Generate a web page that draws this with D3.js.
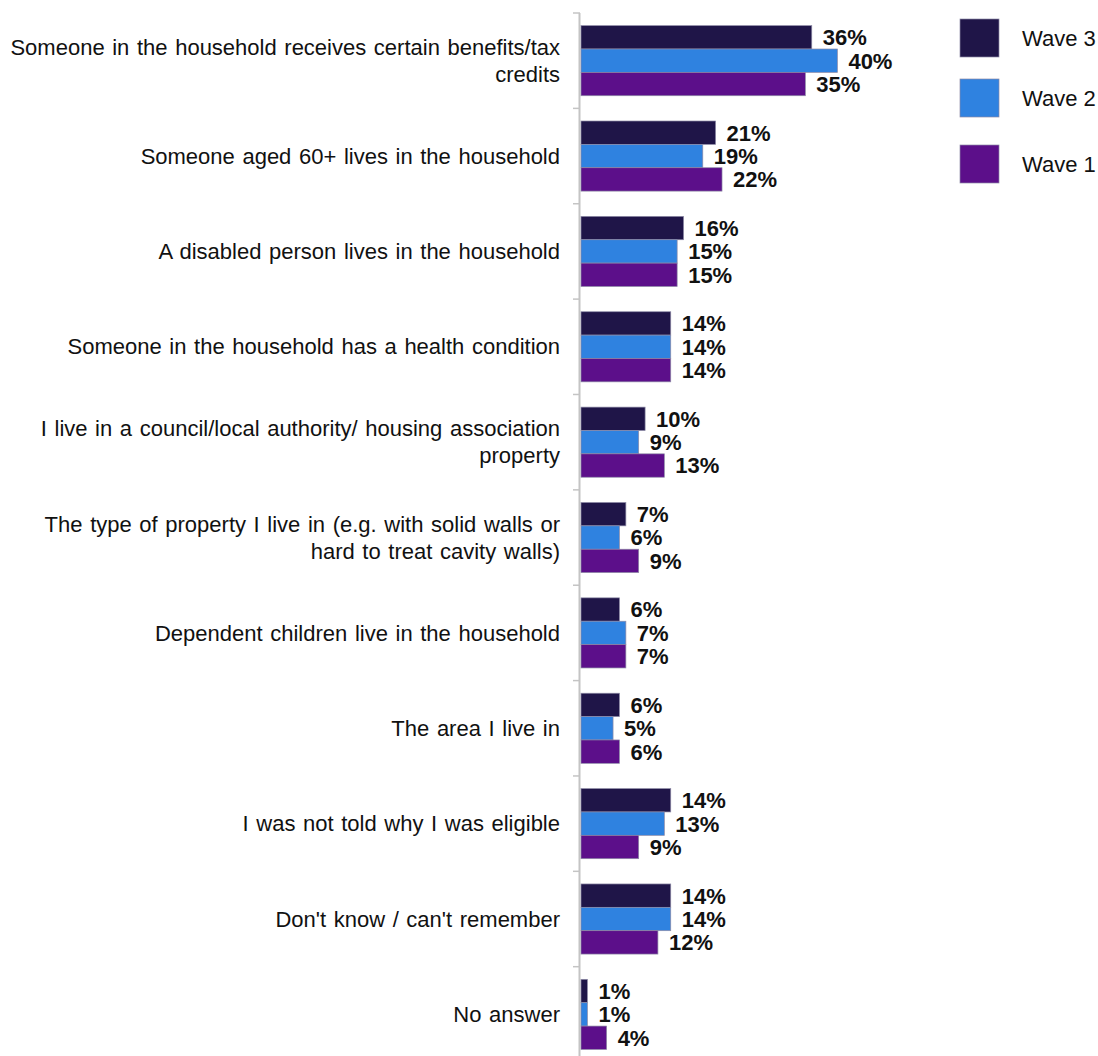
<!DOCTYPE html>
<html>
<head>
<meta charset="utf-8">
<script src="https://cdn.jsdelivr.net/npm/d3@7"></script>
<style>
  html, body { margin: 0; padding: 0; background: #fff; }
  svg { display: block; }
</style>
</head>
<body>
<svg id="chart" width="1098" height="1056"></svg>
<script>
// Reasons given for eligibility, by survey wave (% of respondents)
const categories = [
  ["Someone in the household receives certain benefits/tax", "credits"],
  ["Someone aged 60+ lives in the household"],
  ["A disabled person lives in the household"],
  ["Someone in the household has a health condition"],
  ["I live in a council/local authority/ housing association", "property"],
  ["The type of property I live in (e.g. with solid walls or", "hard to treat cavity walls)"],
  ["Dependent children live in the household"],
  ["The area I live in"],
  ["I was not told why I was eligible"],
  ["Don't know / can't remember"],
  ["No answer"]
];
const seriesNames = ["Wave 3", "Wave 2", "Wave 1"];
const wave3 = [36, 21, 16, 14, 10, 7, 6, 6, 14, 14, 1];
const wave2 = [40, 19, 15, 14, 9, 6, 7, 5, 13, 14, 1];
const wave1 = [35, 22, 15, 14, 13, 9, 7, 6, 9, 12, 4];
const seriesColors = ["#1f1548", "#2f82e0", "#5c0f8a"];

const series = [wave3, wave2, wave1];
const svg = d3.select("#chart");
const font = "'Liberation Sans', Arial, sans-serif";

const x0 = 581;
const x = d3.scaleLinear().domain([0, 40]).range([x0, x0 + 256.4]);
const yTop = 13, step = 95.37;
const y = d3.scaleBand()
  .domain(d3.range(categories.length))
  .range([yTop, yTop + step * categories.length])
  .paddingInner(0.265).paddingOuter(0.1325);
const ySub = d3.scaleBand().domain(d3.range(series.length)).range([0, y.bandwidth()]);

// Category axis: vertical line with ticks between categories
const axisG = svg.append("g");
axisG.append("line")
  .attr("x1", 579.5).attr("x2", 579.5)
  .attr("y1", yTop).attr("y2", 1056)
  .attr("stroke", "#c4c4c4").attr("stroke-width", 2);
d3.range(categories.length + 1).forEach(i => {
  const ty = yTop + i * step;
  axisG.append("line")
    .attr("x1", 573).attr("x2", 580)
    .attr("y1", ty).attr("y2", ty)
    .attr("stroke", "#c4c4c4").attr("stroke-width", 1.5);
});

// Category labels, right aligned
const lineH = 27;
categories.forEach((lines, i) => {
  const cy = y(i) + y.bandwidth() / 2;
  const t = svg.append("text")
    .attr("text-anchor", "end")
    .attr("font-family", font)
    .attr("font-size", 22)
    .attr("fill", "#111");
  lines.forEach((ln, j) => {
    t.append("tspan")
      .attr("x", 560)
      .attr("y", cy + (j - (lines.length - 1) / 2) * lineH)
      .attr("dy", "0.35em")
      .attr("word-spacing", "1.5px")
      .text(ln);
  });
});

// Bars and value labels
series.forEach((vals, s) => {
  const g = svg.append("g");
  g.selectAll("rect").data(vals).join("rect")
    .attr("x", x(0))
    .attr("y", (d, i) => y(i) + ySub(s))
    .attr("width", d => x(d) - x(0))
    .attr("height", ySub.bandwidth())
    .attr("fill", seriesColors[s])
    .attr("stroke", "#8d8aa6")
    .attr("stroke-width", 0.7);
  g.selectAll("text").data(vals).join("text")
    .attr("x", d => x(d) + 11)
    .attr("y", (d, i) => y(i) + ySub(s) + ySub.bandwidth() / 2)
    .attr("dy", "0.36em")
    .attr("font-family", font)
    .attr("font-size", 22)
    .attr("font-weight", "bold")
    .attr("fill", "#111")
    .text(d => d + "%");
});

// Legend
const legendTops = [19, 79, 145];
seriesNames.forEach((name, s) => {
  const g = svg.append("g").attr("transform", `translate(960,${legendTops[s]})`);
  g.append("rect").attr("width", 39).attr("height", 38)
    .attr("fill", seriesColors[s]).attr("stroke", "#8d8aa6").attr("stroke-width", 0.7);
  g.append("text").attr("x", 62).attr("y", 19).attr("dy", "0.35em")
    .attr("font-family", font).attr("font-size", 22).attr("fill", "#111")
    .text(name);
});
</script>
</body>
</html>
